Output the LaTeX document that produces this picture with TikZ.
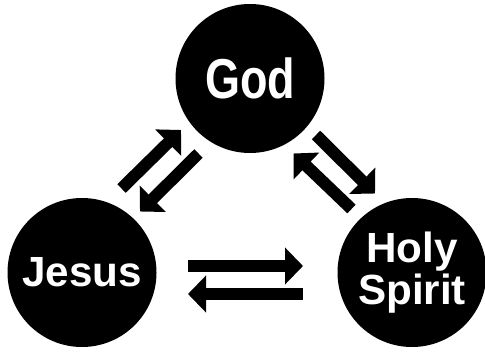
\documentclass[tikz,border=0pt]{standalone}
\usepackage{fontspec}
\setmainfont{Liberation Sans}
\newfontfamily\godfont[FakeStretch=0.8]{Liberation Sans}
\usetikzlibrary{arrows.meta}

\tikzset{
    person/.style={circle,fill=black,text=white,minimum size=2.98cm,inner sep=0pt,
        align=center,font=\bfseries\fontsize{24}{23.5}\selectfont},
    flow/.style={line width=0.24cm,-{Triangle[width=0.72cm,length=0.36cm]}}
}

\begin{document}
\begin{tikzpicture}
    \useasboundingbox (0,0) rectangle (9.7,7.04);
    \node (god) at (5.0,5.47) [person,font=\godfont\bfseries\fontsize{32}{32}\selectfont] {God};
    \node (jesus) at (1.64,1.59) [person] {Jesus};
    \node (spirit) at (8.24,1.59) [person] {Holy\\Spirit};
    % God and Jesus
    \draw[flow] ([shift={(0.79,1.68)}]jesus.center) -- ([shift={(-1.38,-1.03)}]god.center);
    \draw[flow] ([shift={(-1.03,-1.50)}]god.center) -- ([shift={(1.16,1.22)}]jesus.center);
    % God and Holy Spirit
    \draw[flow] ([shift={(1.32,-1.13)}]god.center) -- ([shift={(-0.74,1.58)}]spirit.center);
    \draw[flow] ([shift={(-1.21,1.27)}]spirit.center) -- ([shift={(0.87,-1.50)}]god.center);
    % Jesus and Holy Spirit
    \draw[flow] ([shift={(2.12,0.13)}]jesus.center) -- ([shift={(-2.18,0.13)}]spirit.center);
    \draw[flow] ([shift={(-2.18,-0.43)}]spirit.center) -- ([shift={(2.12,-0.43)}]jesus.center);
\end{tikzpicture}
\end{document}
